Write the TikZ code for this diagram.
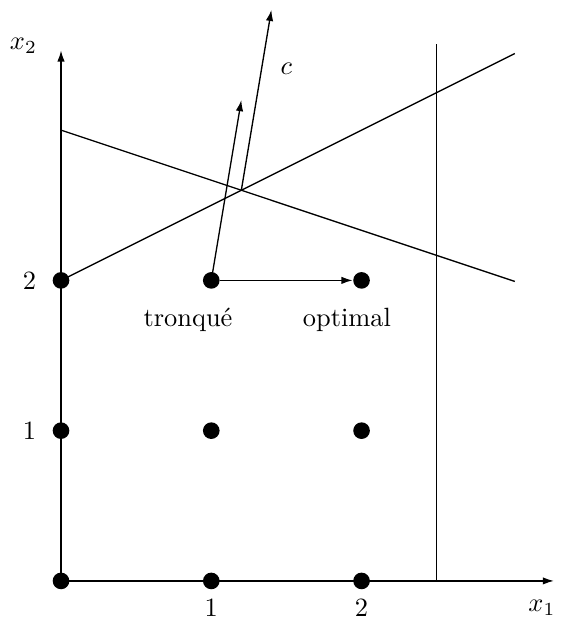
\documentclass[tikz,border=0pt]{standalone}
\usepackage{tikz}
\usetikzlibrary{arrows.meta}

\tikzset{
  pt/.style={circle,fill=black,inner sep=0pt,minimum size=6.3pt},
  arr/.style={-{Latex[length=4.2pt,width=2.8pt]}}
}

\begin{document}
\begin{tikzpicture}[x=2cm,y=2cm,line width=0.5pt]
  \useasboundingbox (-0.406,-0.26) rectangle (3.327,3.866);
  % axes
  \coordinate (O) at (0,0);
  \coordinate (xend) at (3.28,0);
  \coordinate (yend) at (0,3.53);
  \draw[arr] (O)--(xend);
  \draw[arr] (O)--(yend);
  \node at (3.2,-0.18) {$x_1$};
  \node at (-0.25,3.56) {$x_2$};
  % constraints
  \draw (2.5,0)--(2.5,3.57);
  \draw (0,3)--(3.02,1.993);
  \draw (0,2)--(3.02,3.51);
  % integer points
  \node[pt] (p00) at (0,0) {};
  \node[pt] (p10) at (1,0) {};
  \node[pt] (p20) at (2,0) {};
  \node[pt] (p01) at (0,1) {};
  \node[pt] (p11) at (1,1) {};
  \node[pt] (p21) at (2,1) {};
  \node[pt] (p02) at (0,2) {};
  \node[pt] (p12) at (1,2) {};
  \node[pt] (p22) at (2,2) {};
  \node at (1,-0.18) {1};
  \node at (2,-0.18) {2};
  \node at (-0.21,1) {1};
  \node at (-0.21,2) {2};
  % objective direction
  \coordinate (X) at (1.2,2.6);
  \coordinate (Ctop) at (1.4,3.8);
  \coordinate (Cshort) at (1.2,3.2);
  \draw[arr] (X)--(Ctop);
  \node at (1.5,3.41) {$c$};
  \draw[arr] (p12.center)--(Cshort);
  \draw[arr] (p12)--(p22);
  \node at (0.845,1.737) {tronqué};
  \node at (1.903,1.737) {optimal};
\end{tikzpicture}
\end{document}
